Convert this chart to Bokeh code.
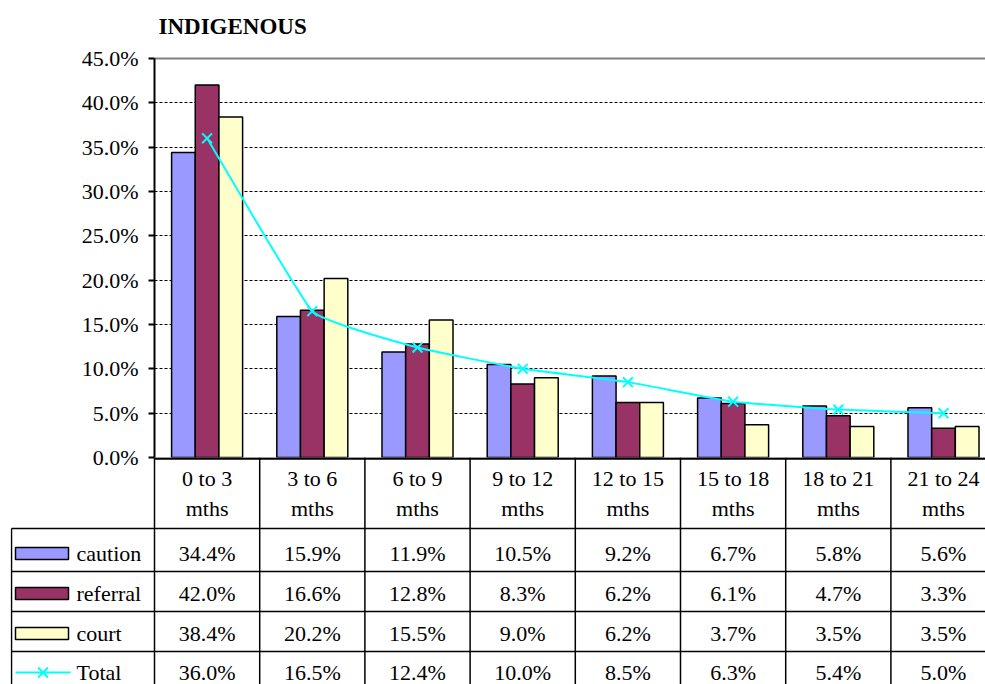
from bokeh.plotting import figure
from bokeh.models import Range1d, FixedTicker, PrintfTickFormatter, ColumnDataSource
from bokeh.core.properties import value
from bokeh.embed import file_html
from bokeh.resources import INLINE

# ---- data -------------------------------------------------------------
periods = ["0 to 3", "3 to 6", "6 to 9", "9 to 12", "12 to 15", "15 to 18", "18 to 21", "21 to 24"]
period_unit = "mths"
caution = [34.4, 15.9, 11.9, 10.5, 9.2, 6.7, 5.8, 5.6]
referral = [42.0, 16.6, 12.8, 8.3, 6.2, 6.1, 4.7, 3.3]
court = [38.4, 20.2, 15.5, 9.0, 6.2, 3.7, 3.5, 3.5]
total = [36.0, 16.5, 12.4, 10.0, 8.5, 6.3, 5.4, 5.0]
series_names = ["caution", "referral", "court", "Total"]
y_ticks = [0, 5, 10, 15, 20, 25, 30, 35, 40, 45]
y_max = 45
title_text = "INDIGENOUS"

# ---- style ------------------------------------------------------------
FONT = "Liberation Serif"
FS = "22px"
COLORS = {"caution": "#9999FF", "referral": "#993366", "court": "#FFFFCC", "Total": "#00FFFF"}

W = 985
COL_PX = 105.2          # width of one category column in pixels
LEFT_PX = 154           # left edge of the plot area
TABLE_LEFT_PX = 10      # left edge of the data table
TOP_PX = 58             # pixel row of the top of the value axis
FRAME_BOTTOM = 457      # pixel row of the 0% baseline
BOTTOM_PAD = 16         # room below the baseline for the lowest tick label
TITLE_MID_PX = 26       # pixel row of the title's centre line
TABLE_H = 684 - FRAME_BOTTOM

n = len(periods)
x_end = (W - LEFT_PX) / COL_PX
centers = [i + 0.5 for i in range(n)]

# the frame runs up to the top of the page so that the heading fits inside it
y_top = y_max * FRAME_BOTTOM / (FRAME_BOTTOM - TOP_PX)
pct_per_px = y_top / FRAME_BOTTOM

# ---- chart ------------------------------------------------------------
p = figure(width=W, height=FRAME_BOTTOM + BOTTOM_PAD, output_backend="svg", toolbar_location=None,
           x_range=Range1d(0, x_end), y_range=Range1d(0, y_top),
           x_axis_location=None,
           min_border_left=LEFT_PX, min_border_right=0,
           min_border_top=0, min_border_bottom=BOTTOM_PAD)
p.outline_line_color = None
p.background_fill_color = "white"
p.border_fill_color = "white"

p.text(x=[4 / COL_PX], y=[(FRAME_BOTTOM - TITLE_MID_PX) * pct_per_px], text=[title_text],
       text_font=value(FONT), text_font_style="bold", text_font_size="23px",
       text_color="black", text_baseline="middle", text_align="left")

p.xgrid.visible = False
p.ygrid.grid_line_color = "black"
p.ygrid.grid_line_dash = "3 2"
p.ygrid.grid_line_width = 1

ax = p.yaxis[0]
ax.ticker = FixedTicker(ticks=y_ticks)
ax.bounds = (0, y_max)
ax.formatter = PrintfTickFormatter(format="%.1f%%")
ax.major_label_text_font = FONT
ax.major_label_text_font_size = FS
ax.major_label_text_color = "black"
ax.axis_line_width = 2
ax.axis_line_color = "black"
ax.major_tick_line_width = 2
ax.major_tick_out = 6
ax.major_tick_in = 0
ax.minor_tick_line_color = None
ax.major_label_standoff = 10

# plot-area top edge
p.segment(x0=[0], y0=[y_max], x1=[x_end], y1=[y_max], line_color="#808080", line_width=2)

bar_w = 0.225
for k, (name, vals) in enumerate([("caution", caution), ("referral", referral), ("court", court)]):
    src = ColumnDataSource(dict(x=[c + (k - 1) * bar_w for c in centers], top=vals))
    p.vbar(x="x", top="top", bottom=0, width=bar_w, source=src,
           fill_color=COLORS[name], line_color="black", line_width=1.5)

# lightly smoothed Total line: short-armed cubic Bezier segments between the points
SMOOTH = 1 / 20
pts = list(zip(centers, total))
x0, y0, x1, y1, cx0, cy0, cx1, cy1 = [], [], [], [], [], [], [], []
for i in range(n - 1):
    pa = pts[i - 1] if i > 0 else pts[i]
    pb = pts[i]
    pc = pts[i + 1]
    pd = pts[i + 2] if i + 2 < n else pts[i + 1]
    x0.append(pb[0]); y0.append(pb[1])
    x1.append(pc[0]); y1.append(pc[1])
    cx0.append(pb[0] + (pc[0] - pa[0]) * SMOOTH); cy0.append(pb[1] + (pc[1] - pa[1]) * SMOOTH)
    cx1.append(pc[0] - (pd[0] - pb[0]) * SMOOTH); cy1.append(pc[1] - (pd[1] - pb[1]) * SMOOTH)
p.bezier(x0=x0, y0=y0, x1=x1, y1=y1, cx0=cx0, cy0=cy0, cx1=cx1, cy1=cy1,
         line_color=COLORS["Total"], line_width=2)
p.scatter(x=centers, y=total, marker="x", size=14, line_color=COLORS["Total"], line_width=2)

# ---- data table (pulled up under the chart's bottom padding) -----------
t_left = -(LEFT_PX - TABLE_LEFT_PX) / COL_PX
t = figure(width=W, height=TABLE_H, output_backend="svg", toolbar_location=None,
           x_range=Range1d(t_left, x_end), y_range=Range1d(TABLE_H, 0),
           x_axis_location=None, y_axis_location=None,
           min_border_left=TABLE_LEFT_PX, min_border_right=0,
           min_border_top=0, min_border_bottom=0)
t.styles = {"margin-top": f"-{BOTTOM_PAD}px"}
t.outline_line_color = None
t.grid.visible = False
t.background_fill_color = None
t.border_fill_color = None

row_edges = [71, 114, 154, 194, 234]
row_mid = [96, 136, 176, 215]
px = 1.0 / COL_PX

# horizontal rules
t.segment(x0=[t_left + px] * len(row_edges), y0=row_edges, x1=[x_end] * len(row_edges), y1=row_edges,
          line_color="black", line_width=1.5)
# x axis baseline
t.segment(x0=[0], y0=[1], x1=[x_end], y1=[1], line_color="black", line_width=2.5)
# vertical rules
vx = list(range(0, n + 1))
t.segment(x0=vx, y0=[0] * len(vx), x1=vx, y1=[TABLE_H] * len(vx), line_color="black", line_width=1.5)
t.segment(x0=[t_left + px], y0=[row_edges[0]], x1=[t_left + px], y1=[TABLE_H],
          line_color="black", line_width=1.5)

# column headers
t.text(x=centers, y=[21] * n, text=periods, text_font=value(FONT), text_font_size=FS,
       text_align="center", text_baseline="middle", text_color="black")
t.text(x=centers, y=[51] * n, text=[period_unit] * n, text_font=value(FONT), text_font_size=FS,
       text_align="center", text_baseline="middle", text_color="black")

# values
for vals, ym in zip([caution, referral, court, total], row_mid):
    t.text(x=centers, y=[ym] * n, text=[f"{v:.1f}%" for v in vals], text_font=value(FONT),
           text_font_size=FS, text_align="center", text_baseline="middle", text_color="black")

# legend keys
sw_l = t_left + 5 * px
sw_r = t_left + 58 * px
for name, ym in zip(series_names[:3], row_mid[:3]):
    t.quad(left=[sw_l], right=[sw_r], top=[ym - 6], bottom=[ym + 6],
           fill_color=COLORS[name], line_color="black", line_width=1.5)
t.segment(x0=[sw_l], y0=[row_mid[3]], x1=[t_left + 60 * px], y1=[row_mid[3]],
          line_color=COLORS["Total"], line_width=2)
t.scatter(x=[(sw_l + t_left + 60 * px) / 2], y=[row_mid[3]], marker="x", size=14,
          line_color=COLORS["Total"], line_width=2)
t.text(x=[t_left + 66 * px] * 4, y=row_mid, text=series_names, text_font=value(FONT),
       text_font_size=FS, text_align="left", text_baseline="middle", text_color="black")

open("out.html", "w").write(file_html([p, t], INLINE))
